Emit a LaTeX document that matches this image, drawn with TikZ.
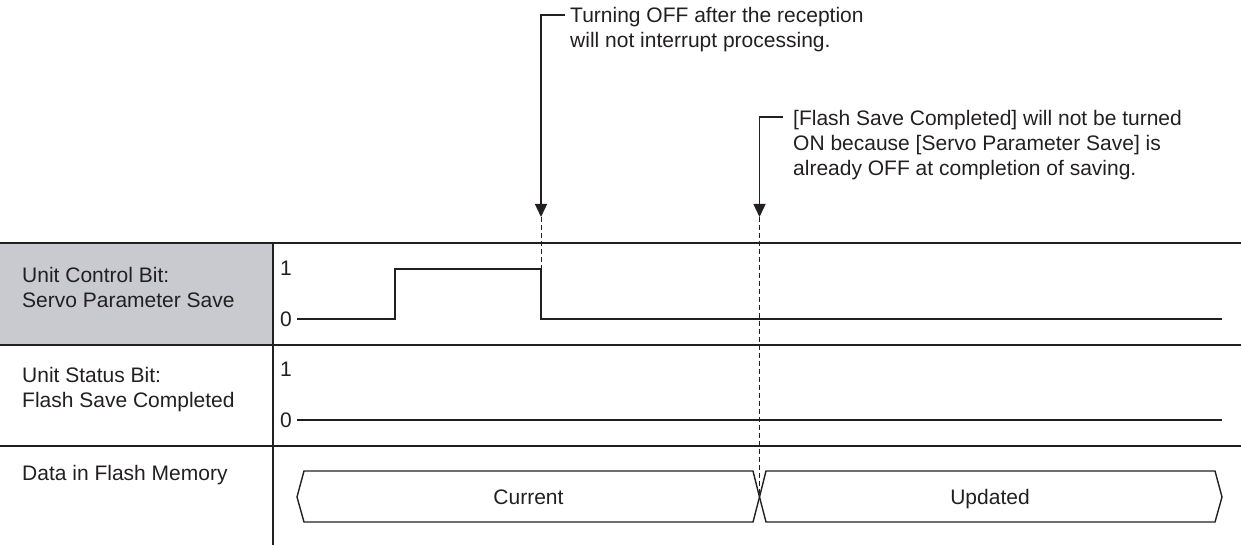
\documentclass[tikz,border=0pt]{standalone}
\usepackage{fontspec}
\setmainfont{Liberation Sans}
\usetikzlibrary{arrows.meta}
\definecolor{ink}{RGB}{35,31,32}
\definecolor{cellgray}{RGB}{201,202,207}
\tikzset{
  txt/.style={anchor=base west, inner sep=0pt, text=ink, font=\fontsize{21}{25}\selectfont},
  ctxt/.style={anchor=base, inner sep=0pt, text=ink, font=\fontsize{21}{25}\selectfont},
  rule/.style={draw=ink, line width=1.4pt},
  sig/.style={draw=ink, line width=1.4pt},
  guide/.style={draw=ink, line width=0.9pt, dash pattern=on 5pt off 3pt},
  callout/.style={draw=ink, line width=1.4pt, -{Triangle[width=12pt,length=13pt]}},
}
\begin{document}
\begin{tikzpicture}[x=1pt,y=-1pt]
\useasboundingbox (0,0) rectangle (1241,545);
% gray cell
\fill[cellgray] (0,243) rectangle (273,345);
% table rules
\draw[rule] (0,243) -- (1241,243);
\draw[rule] (0,345) -- (1241,345);
\draw[rule] (0,446) -- (1241,446);
\draw[rule] (273,243) -- (273,545);
% row labels
\node[txt] (r1a) at (22,282.5) {Unit Control Bit:};
\node[txt] (r1b) at (22,307.5) {Servo Parameter Save};
\node[txt] (r2a) at (22,382.5) {Unit Status Bit:};
\node[txt] (r2b) at (22,407.5) {Flash Save Completed};
\node[txt] (r3a) at (22,480.5) {Data in Flash Memory};
% levels
\node[txt] (h1) at (280,275.5) {1};
\node[txt] (l1) at (280,326.5) {0};
\node[txt] (h2) at (280,376.5) {1};
\node[txt] (l2) at (280,427.5) {0};
% signals
\coordinate (fall) at (541,269);
\draw[sig] (297,319) -- (395,319) -- (395,269) -- (fall) -- (541,319) -- (1222,319);
\draw[sig] (297,420) -- (1222,420);
% data hexagons
\coordinate (cross) at (759.5,497);
\draw[sig, line join=miter] (297,497) -- (304,471) -- (753,471) -- (cross) -- (753,522) -- (304,522) -- cycle;
\draw[sig, line join=miter] (cross) -- (766,471) -- (1215,471) -- (1222,497) -- (1215,522) -- (766,522) -- cycle;
\node[ctxt] (cur) at (528.5,504) {Current};
\node[ctxt] (upd) at (990,504) {Updated};
% callout 1
\node[txt] (c1a) at (570,22.5) {Turning OFF after the reception};
\node[txt] (c1b) at (570,47.5) {will not interrupt processing.};
\coordinate (s1) at (565,15);
\coordinate (t1) at (541,217);
\draw[callout] (s1) -- (541,15) -- (t1);
\draw[guide] (t1) -- (fall);
% callout 2
\node[txt] (c2a) at (793,125.5) {[Flash Save Completed] will not be turned};
\node[txt] (c2b) at (793,150.5) {ON because [Servo Parameter Save] is};
\node[txt] (c2c) at (793,175.5) {already OFF at completion of saving.};
\coordinate (s2) at (783,117);
\coordinate (t2) at (759.5,217);
\draw[callout] (s2) -- (759.5,117) -- (t2);
\draw[guide] (t2) -- (cross);
\end{tikzpicture}
\end{document}
